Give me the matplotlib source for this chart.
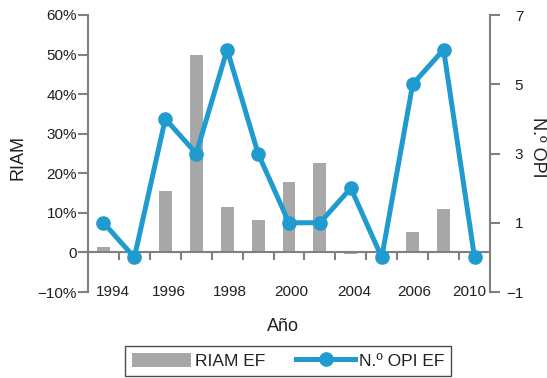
import matplotlib
matplotlib.use("Agg")
import matplotlib.pyplot as plt
import numpy as np
from matplotlib.lines import Line2D
from matplotlib.patches import Patch

# ---- data ----
years = [1994, 1995, 1996, 1997, 1998, 1999, 2000, 2001, 2002, 2003, 2004, 2005, 2006]
riam_ef = [1.3, 0.0, 15.5, 50.0, 11.4, 8.3, 17.9, 22.5, -0.4, 0.0, 5.1, 10.9, 0.0]   # %
opi_ef = [1, 0, 4, 3, 6, 3, 1, 1, 2, 0, 5, 6, 0]
year_labels = ["1994", "1996", "1998", "2000", "2004", "2006", "2010"]
left_ticks = [-10, 0, 10, 20, 30, 40, 50, 60]
left_ticklabels = ["\u221210%", "0", "10%", "20%", "30%", "40%", "50%", "60%"]
right_ticks = [-1, 1, 3, 5, 7]
right_ticklabels = ["\u22121", "1", "3", "5", "7"]

# ---- style ----
plt.rcParams['font.family'] = ['Liberation Sans', 'DejaVu Sans']
TXT = "#231f20"
SPINE = "#808080"
BAR = "#a7a8a7"
LINE = "#1f9bd0"

fig = plt.figure(figsize=(5.47, 3.78), dpi=100)
ax = fig.add_axes([88/547, 1-292/378, 402/547, 277/378])
x = np.arange(len(years))

ax.bar(x, riam_ef, width=0.42, color=BAR, zorder=2)
ax.set_xlim(-0.5, len(years)-0.5)
ax.set_ylim(-10, 60)
ax.set_yticks(left_ticks)
ax.set_yticklabels(left_ticklabels, fontsize=11, color=TXT)
ax.tick_params(axis='y', direction='out', length=7, width=1.5, color=SPINE, pad=1)

for s in ['top', 'right']:
    ax.spines[s].set_visible(False)
ax.spines['left'].set_color(SPINE)
ax.spines['left'].set_linewidth(1.5)
ax.spines['bottom'].set_position(('data', 0))
ax.spines['bottom'].set_color(SPINE)
ax.spines['bottom'].set_linewidth(1.5)
ax.spines['bottom'].set_zorder(3)
ax.set_xticks(x[:-1] + 0.5)
ax.set_xticklabels([])
ax.tick_params(axis='x', direction='out', length=6, width=1.5, color=SPINE)

# year labels spread along the bottom
label_pos = [0.29, 2.13, 4.1, 6.06, 8.1, 10.06, 11.84]
for p, lab in zip(label_pos, year_labels):
    ax.text(p, -10, lab, ha='center', va='center', fontsize=11, color=TXT)

ax.set_ylabel("RIAM", fontsize=13, color=TXT)
ax.yaxis.set_label_coords(-0.152, 0.487)
ax.set_xlabel("Año", fontsize=13, color=TXT)
ax.xaxis.set_label_coords(0.485, -0.095)

ax2 = ax.twinx()
ax2.plot(x, opi_ef, color=LINE, linewidth=3.6, marker='o', markersize=9.5,
         clip_on=False, zorder=5)
ax2.set_ylim(-1, 7)
ax2.set_yticks(right_ticks)
ax2.set_yticklabels(right_ticklabels, fontsize=11, color=TXT, ha='right')
ax2.tick_params(axis='y', direction='out', length=7, width=1.5, color=SPINE, pad=17)
for s in ['top', 'left', 'bottom']:
    ax2.spines[s].set_visible(False)
ax2.spines['right'].set_color(SPINE)
ax2.spines['right'].set_linewidth(1.5)
ax2.set_ylabel("N.º OPI", fontsize=13, color=TXT, rotation=-90, va='center')
ax2.yaxis.set_label_coords(1.119, 0.523)

handles = [Patch(facecolor=BAR, edgecolor='none', label="RIAM EF"),
           Line2D([0], [0], color=LINE, linewidth=3.6, marker='o', markersize=9.5,
                  label="N.º OPI EF")]
leg = fig.legend(handles=handles, loc='center', bbox_to_anchor=(0.527, 0.046),
                 ncol=2, frameon=True, fancybox=False, fontsize=12.5,
                 handlelength=3.4, handleheight=0.9, columnspacing=1.8,
                 borderpad=0.4, handletextpad=0.2, labelcolor=TXT)
leg.get_frame().set_edgecolor(TXT)
leg.get_frame().set_linewidth(1.0)

fig.savefig("out.png", dpi=100)
